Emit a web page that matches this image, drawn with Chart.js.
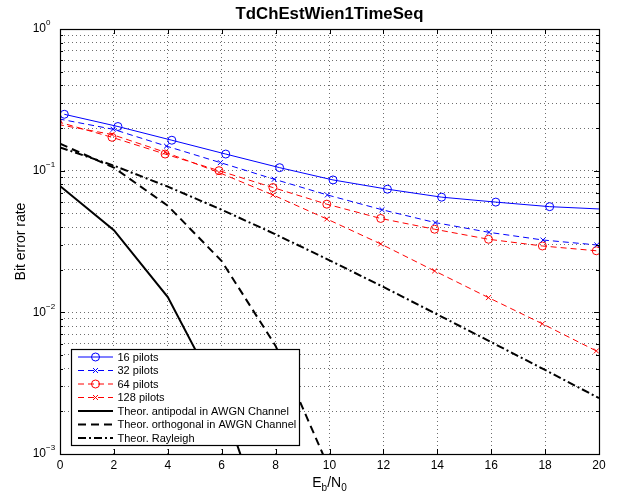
<!DOCTYPE html>
<html>
<head>
<meta charset="utf-8">
<script src="https://cdn.jsdelivr.net/npm/chart.js@4/dist/chart.umd.min.js"></script>
<style>
  html, body { margin: 0; padding: 0; background: #fff; }
  canvas { display: block; }
</style>
</head>
<body>
<canvas id="berChart" width="618" height="497"></canvas>
<script>
// --- data ---
const snr16 = [0.16, 2.15, 4.15, 6.15, 8.15, 10.13, 12.15, 14.16, 16.17, 18.17, 20.17];
const ber16 = [0.250, 0.205, 0.164, 0.131, 0.105, 0.086, 0.074, 0.065, 0.060, 0.0557, 0.0535];
const snr32 = [-0.05, 1.97, 3.95, 5.95, 7.95, 9.92, 11.95, 13.92, 15.92, 17.92, 19.92];
const ber32 = [0.232, 0.196, 0.149, 0.114, 0.087, 0.0674, 0.053, 0.043, 0.0367, 0.0324, 0.0299];
const snr64 = [-0.1, 1.93, 3.9, 5.9, 7.9, 9.9, 11.9, 13.9, 15.9, 17.9, 19.9];
const ber64 = [0.222, 0.172, 0.131, 0.100, 0.076, 0.058, 0.046, 0.0386, 0.0328, 0.0294, 0.0272];
const snr128 = [-0.08, 1.93, 3.9, 5.9, 7.9, 9.9, 11.9, 13.9, 15.9, 17.9, 19.9];
const ber128 = [0.212, 0.180, 0.135, 0.097, 0.0674, 0.0456, 0.0304, 0.0196, 0.0127, 0.0083, 0.00534];

const snrTheory = [0, 2, 4, 6, 8, 10, 12, 14, 16, 18, 20];
const berAntipodal = [0.078, 0.038, 0.0128, 0.0024, 0.00019, 0.0000039, 0.000000009];
const berOrthogonal = [0.155, 0.105, 0.0565, 0.023, 0.0058, 0.00078, 0.000034];
const berRayleigh = [0.146, 0.1085, 0.0771, 0.053, 0.0355, 0.0233, 0.0151, 0.00966, 0.00616, 0.00392, 0.00248];

const xTicks = [0, 2, 4, 6, 8, 10, 12, 14, 16, 18, 20];
const yDecades = [1e-3, 1e-2, 1e-1, 1];

const FONT = '"Liberation Sans", Arial, Helvetica, sans-serif';

function pts(xs, ys) {
  return ys.map((y, i) => ({ x: xs[i], y: y }));
}

function series(label, xs, ys, color, dash, marker, width) {
  return {
    label: label,
    data: pts(xs, ys),
    borderColor: color,
    backgroundColor: color,
    borderWidth: width || 1,
    borderDash: dash,
    pointStyle: marker || false,
    pointRadius: marker ? (marker === 'circle' ? 4 : 3.5) : 0,
    pointBorderWidth: 1,
    pointBackgroundColor: 'rgba(0,0,0,0)',
    pointBorderColor: color,
    tension: 0,
    clip: 0,
  };
}

// minor log ticks: 1..9 x each decade
function logTicks() {
  const out = [];
  yDecades.forEach(function (d, i) {
    if (i === yDecades.length - 1) { out.push(d); return; }
    for (let m = 1; m < 10; m++) out.push(m * d);
  });
  return out;
}

// --- MATLAB-style axes, labels and legend ---
const matlabAxes = {
  id: 'matlabAxes',
  afterDatasetsDraw(chart) {
    const ctx = chart.ctx;
    const a = chart.chartArea;
    const xs = chart.scales.x, ys = chart.scales.y;
    ctx.save();
    ctx.strokeStyle = '#000';
    ctx.lineWidth = 1;
    ctx.setLineDash([]);
    ctx.beginPath();
    xTicks.forEach(function (v) {
      const px = Math.round(xs.getPixelForValue(v)) + 0.5;
      ctx.moveTo(px, a.bottom); ctx.lineTo(px, a.bottom - 5);
      ctx.moveTo(px, a.top); ctx.lineTo(px, a.top + 5);
    });
    logTicks().forEach(function (v) {
      const py = Math.round(ys.getPixelForValue(v)) + 0.5;
      const major = yDecades.indexOf(v) >= 0;
      const len = major ? 5 : 3;
      ctx.moveTo(a.left, py); ctx.lineTo(a.left + len, py);
      ctx.moveTo(a.right, py); ctx.lineTo(a.right - len, py);
    });
    ctx.stroke();
    ctx.lineWidth = 1.2;
    ctx.strokeRect(Math.round(a.left) + 0.5, Math.round(a.top) + 0.5,
      Math.round(a.right - a.left), Math.round(a.bottom - a.top));
    ctx.restore();
  },
  afterDraw(chart) {
    const ctx = chart.ctx;
    const a = chart.chartArea;
    const xs = chart.scales.x, ys = chart.scales.y;
    ctx.save();
    ctx.fillStyle = '#000';

    // title
    ctx.font = 'bold 16.8px ' + FONT;
    ctx.textAlign = 'center';
    ctx.textBaseline = 'alphabetic';
    ctx.fillText('TdChEstWien1TimeSeq', (a.left + a.right) / 2, 18.5);

    // x tick labels
    ctx.font = '12px ' + FONT;
    ctx.textBaseline = 'middle';
    xTicks.forEach(function (v) {
      ctx.fillText(String(v), xs.getPixelForValue(v), a.bottom + 11.5);
    });

    // y tick labels 10^k
    yDecades.forEach(function (d) {
      const py = ys.getPixelForValue(d);
      const k = Math.round(Math.log10(d));
      ctx.font = '12px ' + FONT;
      ctx.textAlign = 'right';
      ctx.textBaseline = 'middle';
      ctx.fillText('10', a.left - 14, py);
      ctx.font = '8px ' + FONT;
      ctx.textAlign = 'left';
      ctx.fillText(k < 0 ? '\u2212' + (-k) : String(k), a.left - 14, py - 6);
    });

    // x axis title E_b/N_0
    ctx.textBaseline = 'alphabetic';
    ctx.textAlign = 'left';
    const parts = [['E', 14, 0], ['b', 10, 4], ['/N', 14, 0], ['0', 10, 4]];
    let total = 0;
    parts.forEach(function (p) { ctx.font = p[1] + 'px ' + FONT; total += ctx.measureText(p[0]).width; });
    let cx = (a.left + a.right) / 2 - total / 2;
    parts.forEach(function (p) {
      ctx.font = p[1] + 'px ' + FONT;
      ctx.fillText(p[0], cx, 487 + p[2]);
      cx += ctx.measureText(p[0]).width;
    });

    // y axis title
    ctx.save();
    ctx.translate(25, (a.top + a.bottom) / 2);
    ctx.rotate(-Math.PI / 2);
    ctx.font = '14px ' + FONT;
    ctx.textAlign = 'center';
    ctx.fillText('Bit error rate', 0, 0);
    ctx.restore();

    // legend box inside the axes
    const bx = 71.5, by = 349.5, bw = 228, bh = 96;
    ctx.fillStyle = '#fff';
    ctx.fillRect(bx, by, bw, bh);
    ctx.strokeStyle = '#000';
    ctx.lineWidth = 1.2;
    ctx.setLineDash([]);
    ctx.strokeRect(bx, by, bw, bh);
    chart.data.datasets.forEach(function (ds, i) {
      const ly = 357 + i * 13.5;
      ctx.strokeStyle = ds.borderColor;
      ctx.lineWidth = ds.borderWidth;
      ctx.setLineDash(ds.borderDash || []);
      ctx.beginPath();
      ctx.moveTo(78, ly); ctx.lineTo(113, ly);
      ctx.stroke();
      ctx.setLineDash([]);
      ctx.lineWidth = 1;
      if (ds.pointStyle === 'circle') {
        ctx.beginPath();
        ctx.arc(95.5, ly, 4, 0, Math.PI * 2);
        ctx.stroke();
      } else if (ds.pointStyle === 'crossRot') {
        ctx.beginPath();
        ctx.moveTo(93, ly - 2.5); ctx.lineTo(98, ly + 2.5);
        ctx.moveTo(98, ly - 2.5); ctx.lineTo(93, ly + 2.5);
        ctx.stroke();
      }
      ctx.fillStyle = '#000';
      ctx.font = '11px ' + FONT;
      ctx.textAlign = 'left';
      ctx.textBaseline = 'middle';
      ctx.fillText(ds.label, 117.5, ly + 0.5);
    });
    ctx.restore();
  },
};

new Chart(document.getElementById('berChart'), {
  type: 'line',
  data: {
    datasets: [
      series('16 pilots', snr16, ber16, '#0000ff', [], 'circle'),
      series('32 pilots', snr32, ber32, '#0000ff', [6, 4], 'crossRot'),
      series('64 pilots', snr64, ber64, '#ff0000', [6, 4], 'circle'),
      series('128 pilots', snr128, ber128, '#ff0000', [6, 4], 'crossRot'),
      series('Theor. antipodal in AWGN Channel', snrTheory, berAntipodal, '#000', [], null, 2),
      series('Theor. orthogonal in AWGN Channel', snrTheory, berOrthogonal, '#000', [8, 5], null, 2),
      series('Theor. Rayleigh', snrTheory, berRayleigh, '#000', [8, 3, 2, 3], null, 2),
    ],
  },
  options: {
    responsive: false,
    devicePixelRatio: 1,
    animation: false,
    events: [],
    layout: { padding: { left: 60, right: 19, top: 29, bottom: 43 } },
    plugins: {
      legend: { display: false },
      tooltip: { enabled: false },
      title: { display: false },
    },
    scales: {
      x: {
        type: 'linear',
        min: 0,
        max: 20,
        afterBuildTicks: (s) => { s.ticks = xTicks.map((v) => ({ value: v })); },
        ticks: { display: false },
        grid: { color: '#6e6e6e', lineWidth: 1, drawTicks: false },
        border: { display: false, dash: [1, 3] },
      },
      y: {
        type: 'logarithmic',
        min: 1e-3,
        max: 1,
        afterBuildTicks: (s) => { s.ticks = logTicks().map((v) => ({ value: v })); },
        ticks: { display: false },
        grid: { color: '#6e6e6e', lineWidth: 1, drawTicks: false },
        border: { display: false, dash: [1, 3] },
      },
    },
  },
  plugins: [matlabAxes],
});
</script>
</body>
</html>
